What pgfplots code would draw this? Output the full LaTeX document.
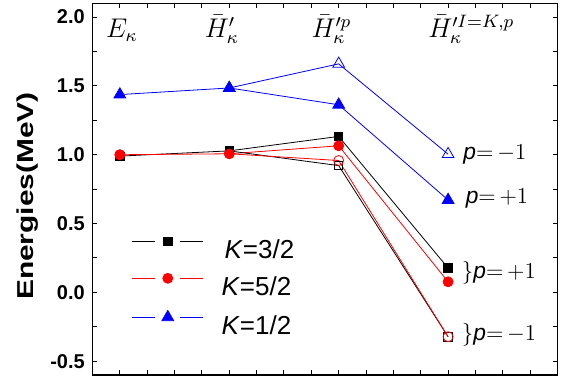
\RequirePackage{fix-cm}
\documentclass[border=0pt]{standalone}
\usepackage[no-math]{fontspec}
\setmainfont{Liberation Sans}
\usepackage{graphicx}
\usepackage{pgfplots}
\pgfplotsset{compat=1.18}
\usetikzlibrary{calc}
\definecolor{myblue}{RGB}{0,0,255}
\definecolor{myred}{RGB}{255,0,0}
\newcommand{\colm}[1]{\scalebox{2.25}{\fontsize{12}{14}\selectfont #1}}
\newcommand{\parm}[1]{\scalebox{1.9}{\fontsize{12}{14}\selectfont #1}}
\begin{document}
\begin{tikzpicture}
\begin{axis}[
  scale only axis, width=465pt, height=371.7pt,
  xmin=0.75, xmax=5, ymin=-0.6, ymax=2.1,
  xtick={0.75,1,...,5}, xticklabels={},
  ytick={-0.5,0,...,2}, minor ytick={-0.25,0.25,...,1.75},
  tick align=inside, major tick length=5pt, minor tick length=5pt,
  axis line style={line width=1.2pt}, tick style={line width=1pt, black},
  /pgf/number format/assume math mode=true,
  yticklabel style={font=\bfseries\fontsize{20}{24}\selectfont, inner sep=0pt, xshift=-7.5pt,
    /pgf/number format/fixed, /pgf/number format/fixed zerofill, /pgf/number format/precision=1},
  ylabel={\scalebox{1.3}[1]{Energies(MeV)}},
  every axis y label/.style={at={(axis description cs:-0.1273,0.4816)}, rotate=90, anchor=base,
    font=\bfseries\fontsize{23}{27}\selectfont},
  legend cell align=left,
  legend style={draw=none, fill=none, at={(rel axis cs:0.0843,0.372)}, anchor=north west,
    font=\fontsize{26}{30}\selectfont, inner sep=0pt, row sep=13pt,
    nodes={inner sep=0pt}},
  legend image code/.code={
    \draw[#1,mark=none] (0pt,9pt) -- (23pt,9pt);
    \draw[#1,mark=none] (48pt,9pt) -- (71pt,9pt);
    \draw[#1,only marks] plot coordinates {(35.5pt,9pt)};
  },
]
% K=3/2 black
\addplot[black, line width=0.8pt, mark=square*, mark size=4.2pt] coordinates {(1,0.99) (2,1.028) (3,1.133) (4,0.177)};
\addlegendentry{\hspace{21pt}\textit{K}=3/2}
% K=5/2 red
\addplot[myred, line width=0.8pt, mark=*, mark size=5pt] coordinates {(1,1.0) (2,1.007) (3,1.065) (4,0.077)};
\addlegendentry{\hspace{18pt}\textit{K}=5/2}
% K=1/2 blue
\addplot[myblue, line width=0.8pt, mark=triangle*, mark size=6.8pt] coordinates {(1,1.437) (2,1.485) (3,1.363) (4,0.671)};
\addlegendentry{\hspace{18pt}\textit{K}=1/2}
% open branches
\addplot[black, line width=0.8pt, mark=square, mark size=4.2pt, mark options={fill=white, line width=0.8pt}, mark indices={2,3}, forget plot] coordinates {(2,1.028) (3,0.921) (4,-0.322)};
\addplot[myred, line width=0.8pt, mark=o, mark size=5pt, mark options={fill=white, line width=0.8pt}, mark indices={2,3}, forget plot] coordinates {(2,1.007) (3,0.958) (4,-0.322)};
\addplot[myblue, line width=0.8pt, mark=triangle, mark size=6.8pt, mark options={fill=white, line width=0.8pt}, mark indices={2,3}, forget plot] coordinates {(2,1.485) (3,1.66) (4,1.004)};
% redraw filled markers at shared points on top
\addplot[black, only marks, mark=square*, mark size=4.2pt, forget plot] coordinates {(2,1.028)};
\addplot[myred, only marks, mark=*, mark size=5pt, forget plot] coordinates {(1,1.0) (2,1.007)};
\addplot[myblue, only marks, mark=triangle*, mark size=6.8pt, forget plot] coordinates {(2,1.485)};
% column labels
\node[anchor=base west, inner sep=0pt] at (axis cs:0.873,1.855) {\colm{$E_\kappa$}};
\node[anchor=base west, inner sep=0pt] at (axis cs:1.775,1.855) {\colm{$\bar{H}'_\kappa$}};
\node[anchor=base west, inner sep=0pt] at (axis cs:2.75,1.855) {\colm{$\bar{H}'^{p}_\kappa$}};
\node[anchor=base west, inner sep=0pt] at (axis cs:3.817,1.855) {\colm{$\bar{H}'^{I=K,p}_\kappa$}};
% parity labels
\node[anchor=base west, inner sep=0pt] at (axis cs:4.139,0.962) {\parm{\textit{p}$=\mkern-2mu-1$}};
\node[anchor=base west, inner sep=0pt] at (axis cs:4.16,0.647) {\parm{\textit{p}$=\mkern-2mu+1$}};
\node[anchor=base west, inner sep=0pt] at (axis cs:4.125,0.102) {\parm{$\}$\textit{p}$=\mkern-2mu+1$}};
\node[anchor=base west, inner sep=0pt] at (axis cs:4.125,-0.351) {\parm{$\}$\textit{p}$=\mkern-2mu-1$}};
\end{axis}
\pgfresetboundingbox
\path[use as bounding box] ($(current axis.south west)+(-92.5pt,-6pt)$) rectangle ($(current axis.north east)+(10.5pt,3.3pt)$);
\end{tikzpicture}
\end{document}
